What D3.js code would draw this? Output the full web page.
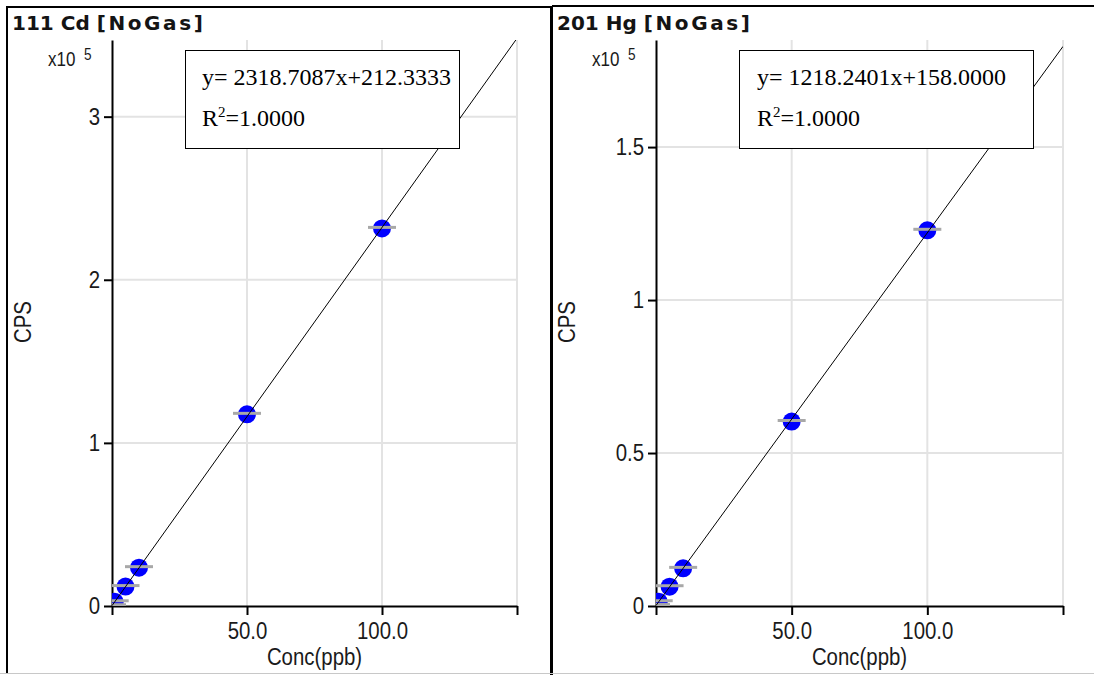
<!DOCTYPE html>
<html>
<head>
<meta charset="utf-8">
<script src="https://cdn.jsdelivr.net/npm/d3@7"></script>
<style>
  body { margin: 0; background: #fff; }
  svg { display: block; }
</style>
</head>
<body>
<div id="chart"></div>
<script>
// Calibration standards (ppb)
var conc = [0, 1, 5, 10, 50, 100];

var cdCps = [180, 2600, 11900, 23500, 117500, 231500];
var hgCps = [150, 1400, 6300, 12300, 60300, 122800];

// Axis ticks (y in units of 10^5)
var xTicks = [0, 50, 100, 150];
var cdTicks = [0, 1, 2, 3];
var hgTicks = [0, 0.5, 1, 1.5];
var cdTop = 3.47;
var hgTop = 1.85;

// Fit results
var cdFit = [2318.7087, 212.3333];
var hgFit = [1218.2401, 158.0000];
var titles = ["111 Cd", "201 Hg"];
var equations = ["y= 2318.7087x+212.3333", "y= 1218.2401x+158.0000"];
var rSquared = ["1.0000", "1.0000"];

var svgWidth = 1094;
var svgHeight = 675;
var plotTop = 40;
var plotBottom = 606;
var sans = "'Liberation Sans', Arial, sans-serif";

var svg = d3.select("#chart")
    .append("svg")
    .attr("width", svgWidth)
    .attr("height", svgHeight);

// Panel frames
svg.append("line").attr("x1", 6).attr("y1", 7).attr("x2", 551).attr("y2", 7)
    .attr("stroke", "#000").attr("stroke-width", 2);
svg.append("line").attr("x1", 7).attr("y1", 6).attr("x2", 7).attr("y2", 673)
    .attr("stroke", "#000").attr("stroke-width", 2);
svg.append("line").attr("x1", 551.5).attr("y1", 6).attr("x2", 551.5).attr("y2", 675)
    .attr("stroke", "#000").attr("stroke-width", 3);
svg.append("line").attr("x1", 552).attr("y1", 6).attr("x2", 1094).attr("y2", 6)
    .attr("stroke", "#000").attr("stroke-width", 2);
svg.append("line").attr("x1", 0).attr("y1", 673.5).attr("x2", 1094).attr("y2", 673.5)
    .attr("stroke", "#c8c8c8").attr("stroke-width", 1);

// Sans text is drawn a bit narrow, like the instrument software
function narrowText(sel, x, y, rotate) {
    return sel.attr("transform", "translate(" + x + "," + y + ")" +
        (rotate ? " rotate(" + rotate + ")" : "") + " scale(0.85,1)");
}

function drawPanel(p) {
    var g = svg.append("g");

    var xScale = d3.scaleLinear().domain([0, 150]).range([p.left, p.right]);
    var yScale = d3.scaleLinear().domain([0, p.top * 1e5]).range([plotBottom, plotTop]);

    svg.append("clipPath").attr("id", p.id)
        .append("rect")
        .attr("x", p.left)
        .attr("y", plotTop)
        .attr("width", p.right - p.left)
        .attr("height", plotBottom - plotTop);

    // Title
    var title = g.append("text")
        .attr("x", p.titleX)
        .attr("y", 30)
        .attr("font-family", "'DejaVu Sans', Verdana, sans-serif")
        .attr("font-weight", "bold")
        .attr("font-size", 20)
        .attr("fill", "#141414");
    title.append("tspan").text(p.title + " ");
    title.append("tspan").attr("letter-spacing", 2.6).text("[NoGas]");

    // Gridlines
    g.append("g").selectAll("line")
        .data(p.yTicks.filter(d => d > 0))
        .enter()
        .append("line")
        .attr("x1", p.left).attr("x2", p.right)
        .attr("y1", d => yScale(d * 1e5)).attr("y2", d => yScale(d * 1e5))
        .attr("stroke", "#e3e3e3").attr("stroke-width", 2);
    g.append("g").selectAll("line")
        .data(xTicks.filter(d => d > 0))
        .enter()
        .append("line")
        .attr("x1", d => xScale(d)).attr("x2", d => xScale(d))
        .attr("y1", plotTop).attr("y2", plotBottom)
        .attr("stroke", "#e3e3e3").attr("stroke-width", 2);

    // Axes
    var leftAxis = d3.axisLeft(yScale)
        .tickValues(p.yTicks.map(d => d * 1e5))
        .tickFormat(d => d3.format("~g")(d / 1e5))
        .tickSize(8)
        .tickPadding(6)
        .tickSizeOuter(0);
    var bottomAxis = d3.axisBottom(xScale)
        .tickValues(xTicks)
        .tickFormat(d => (d > 0 && d < 150) ? d3.format(".1f")(d) : "")
        .tickSize(9)
        .tickPadding(7)
        .tickSizeOuter(0);

    var ya = g.append("g")
        .attr("transform", "translate(" + p.left + ",0)")
        .call(leftAxis);
    var xa = g.append("g")
        .attr("transform", "translate(0," + plotBottom + ")")
        .call(bottomAxis);

    [ya, xa].forEach(function (a) {
        a.select(".domain").attr("stroke", "#000").attr("stroke-width", 2);
        a.selectAll(".tick line").attr("stroke", "#000").attr("stroke-width", 2);
        a.selectAll(".tick text")
            .attr("font-family", sans)
            .attr("font-size", 24)
            .attr("fill", "#1a1a1a")
            .attr("transform", "scale(0.85,1)");
    });

    // Scale factor label
    narrowText(g.append("text"), p.left - 64, 66)
        .attr("font-family", sans).attr("font-size", 20).attr("fill", "#1a1a1a")
        .text("x10");
    narrowText(g.append("text"), p.left - 28, 60)
        .attr("font-family", sans).attr("font-size", 16).attr("fill", "#1a1a1a")
        .text("5");

    // Axis titles
    narrowText(g.append("text"), p.left - 89, 322, -90)
        .attr("font-family", sans).attr("font-size", 24).attr("fill", "#1a1a1a")
        .attr("text-anchor", "middle")
        .attr("dominant-baseline", "central")
        .text("CPS");
    narrowText(g.append("text"), (p.left + p.right) / 2, 665)
        .attr("font-family", sans).attr("font-size", 24).attr("fill", "#1a1a1a")
        .attr("text-anchor", "middle")
        .text("Conc(ppb)");

    // Points, bars and fit line inside the plot area
    var plot = g.append("g").attr("clip-path", "url(#" + p.id + ")");

    plot.selectAll("circle")
        .data(conc)
        .enter()
        .append("circle")
        .attr("cx", d => xScale(d))
        .attr("cy", (d, i) => yScale(p.cps[i]))
        .attr("r", 9)
        .attr("fill", "#0000ff");

    plot.selectAll("line.bar")
        .data(conc)
        .enter()
        .append("line")
        .attr("class", "bar")
        .attr("x1", d => xScale(d) - 14)
        .attr("x2", d => xScale(d) + 14)
        .attr("y1", (d, i) => yScale(p.cps[i]) - 1)
        .attr("y2", (d, i) => yScale(p.cps[i]) - 1)
        .attr("stroke", "#a8a8a8")
        .attr("stroke-width", 3);

    plot.append("line")
        .attr("x1", xScale(0))
        .attr("y1", yScale(p.fit[1]))
        .attr("x2", xScale(150))
        .attr("y2", yScale(p.fit[0] * 150 + p.fit[1]))
        .attr("stroke", "#000")
        .attr("stroke-width", 1);

    // Equation box
    g.append("rect")
        .attr("x", p.boxX + 0.5)
        .attr("y", 50.5)
        .attr("width", p.boxW)
        .attr("height", 98)
        .attr("fill", "#fff")
        .attr("stroke", "#000")
        .attr("stroke-width", 1);
    g.append("text")
        .attr("x", p.boxX + p.textOff)
        .attr("y", 85)
        .attr("font-family", "'Liberation Serif', 'Times New Roman', serif")
        .attr("font-size", 24)
        .attr("fill", "#000")
        .text(p.equation);
    var r2 = g.append("text")
        .attr("x", p.boxX + p.textOff)
        .attr("y", 126)
        .attr("font-family", "'Liberation Serif', 'Times New Roman', serif")
        .attr("font-size", 24)
        .attr("fill", "#000");
    r2.append("tspan").text("R");
    r2.append("tspan").attr("font-size", 15).attr("dy", -9).text("2");
    r2.append("tspan").attr("dy", 9).text("=" + p.r2);
}

drawPanel({
    id: "clipCd", left: 112, right: 517, top: cdTop, yTicks: cdTicks,
    cps: cdCps, fit: cdFit, title: titles[0], titleX: 12,
    equation: equations[0], r2: rSquared[0], boxX: 185, boxW: 274, textOff: 17
});
drawPanel({
    id: "clipHg", left: 656, right: 1063, top: hgTop, yTicks: hgTicks,
    cps: hgCps, fit: hgFit, title: titles[1], titleX: 557,
    equation: equations[1], r2: rSquared[1], boxX: 739, boxW: 294, textOff: 18
});
</script>
</body>
</html>
